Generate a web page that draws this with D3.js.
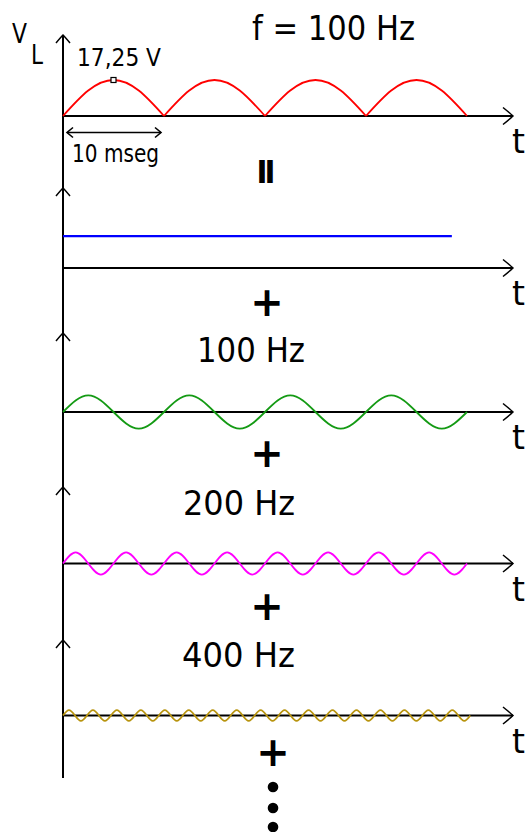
<!DOCTYPE html>
<html><head><meta charset="utf-8">
<script src="https://cdn.jsdelivr.net/npm/d3@7/dist/d3.min.js"></script>
<style>html,body{margin:0;padding:0;background:#fff;} svg{display:block;}</style>
</head><body>
<script>
// ---------- data ----------
const titleLabel = "f = 100 Hz";
const yAxisLabel = "V";
const yAxisSub = "L";
const xAxisLabel = "t";
const peakLabel = "17,25 V";
const periodLabel = "10 mseg";
const harmonicLabels = ["100 Hz", "200 Hz", "400 Hz"];

const timeDomain = [0, 40];          // ms
const voltDomain = [0, 17.25];       // V
const periodMarker = [0, 10];        // ms (double arrow)

const rectifiedStep = 2.5;           // ms between samples
const rectifiedValues = [0,12.2,17.25,12.2, 0,12.2,17.25,12.2, 0,12.2,17.25,12.2, 0,12.2,17.25,12.2, 0];

const dcSpan = [0, 38.5];            // ms
const dcValue = 15.3;                // V

const h100Step = 2.5;
const h100Values = [0,8,0,-8, 0,8,0,-8, 0,8,0,-8, 0,8,0,-8, 0];

const h200Step = 1.25;
const h200Values = [0,5.3,0,-5.3, 0,5.3,0,-5.3, 0,5.3,0,-5.3, 0,5.3,0,-5.3,
                    0,5.3,0,-5.3, 0,5.3,0,-5.3, 0,5.3,0,-5.3, 0,5.3,0,-5.3, 0];

const h400Step = 0.593;
const h400Values = [0,2.6,0,-2.6, 0,2.6,0,-2.6, 0,2.6,0,-2.6, 0,2.6,0,-2.6,
                    0,2.6,0,-2.6, 0,2.6,0,-2.6, 0,2.6,0,-2.6, 0,2.6,0,-2.6,
                    0,2.6,0,-2.6, 0,2.6,0,-2.6, 0,2.6,0,-2.6, 0,2.6,0,-2.6,
                    0,2.6,0,-2.6, 0,2.6,0,-2.6, 0,2.6,0,-2.6, 0,2.6,0,-2.6,
                    0,2.6,0,-2.6, 0];

// ---------- layout ----------
const W = 525, H = 832;
const FONT = "'DejaVu Sans', Verdana, sans-serif";
const xLeft = 63, xDataRight = 467, xAxisRight = 513;
const panelBase = [116, 268, 412, 563.5, 715.5];
const panelTop  = [35, 188, 333, 487, 640];
const axisBottom = 778;
const voltPx = 36;

const svg = d3.select("body").append("svg").attr("width", W).attr("height", H);

const x = d3.scaleLinear().domain(timeDomain).range([xLeft, xDataRight]);
const yFor = i => d3.scaleLinear().domain(voltDomain).range([panelBase[i], panelBase[i] - voltPx]);

// vertical axis
svg.append("line").attr("x1", xLeft).attr("x2", xLeft).attr("y1", panelTop[0]).attr("y2", axisBottom)
  .attr("stroke", "#000").attr("stroke-width", 2);
panelTop.forEach(t => {
  svg.append("path")
    .attr("d", `M${xLeft-7},${t+8} Q${xLeft-2},${t+2} ${xLeft},${t} Q${xLeft+2},${t+2} ${xLeft+7},${t+8}`)
    .attr("fill", "none").attr("stroke", "#000").attr("stroke-width", 1.5);
});

// horizontal axes + t labels
panelBase.forEach(b => {
  svg.append("line").attr("x1", xLeft).attr("x2", xAxisRight).attr("y1", b).attr("y2", b)
    .attr("stroke", "#000").attr("stroke-width", 2);
  svg.append("path")
    .attr("d", `M${xAxisRight-10},${b-8.5} Q${xAxisRight-2},${b-2} ${xAxisRight},${b} Q${xAxisRight-2},${b+2} ${xAxisRight-10},${b+8.5}`)
    .attr("fill", "none").attr("stroke", "#000").attr("stroke-width", 1.5);
  svg.append("text").attr("x", xAxisRight - 1).attr("y", b + 37)
    .attr("font-family", FONT).attr("font-size", 33).text(xAxisLabel);
});

// rectified wave (red) - one path per arch
const y0 = yFor(0);
const rectPts = rectifiedValues.map((v, i) => [i * rectifiedStep, v]);
const archLine = d3.line().x(d => x(d[0])).y(d => y0(d[1])).curve(d3.curveNatural);
for (let k = 0; k + 4 < rectPts.length; k += 4) {
  svg.append("path").attr("d", archLine(rectPts.slice(k, k + 5)))
    .attr("fill", "none").attr("stroke", "#ff0000").attr("stroke-width", 1.8);
}
// peak marker
svg.append("rect").attr("x", x(2 * rectifiedStep) - 2.5).attr("y", y0(d3.max(rectifiedValues)) - 2.5)
  .attr("width", 5).attr("height", 5).attr("fill", "#fff").attr("stroke", "#000").attr("stroke-width", 1.2);

// DC (blue)
const y1 = yFor(1);
svg.append("line").attr("x1", x(dcSpan[0])).attr("x2", x(dcSpan[1]))
  .attr("y1", y1(dcValue)).attr("y2", y1(dcValue))
  .attr("stroke", "#0000ff").attr("stroke-width", 2.2);

// harmonics
function wave(i, step, values, color) {
  const y = yFor(i);
  const line = d3.line().x((d, j) => x(j * step)).y(d => y(d)).curve(d3.curveNatural);
  svg.append("path").attr("d", line(values)).attr("fill", "none")
    .attr("stroke", color).attr("stroke-width", 1.8);
}
wave(2, h100Step, h100Values, "#149a14");
wave(3, h200Step, h200Values, "#ff00ff");
wave(4, h400Step, h400Values, "#b8940f");

// texts
function txt(xp, yp, s, size, len) {
  const t = svg.append("text").attr("x", xp).attr("y", yp).attr("font-family", FONT)
    .attr("font-size", size).attr("fill", "#000").text(s);
  if (len) t.attr("textLength", len).attr("lengthAdjust", "spacingAndGlyphs");
  return t;
}
txt(252, 40, titleLabel, 33, 163);
txt(12, 43, yAxisLabel, 26, 15);
txt(31, 64, yAxisSub, 26, 12);
txt(77, 66, peakLabel, 24, 84);
txt(72, 162, periodLabel, 24, 87);
txt(197, 362, harmonicLabels[0], 33, 108);
txt(183, 515, harmonicLabels[1], 33, 112);
txt(182, 667, harmonicLabels[2], 33, 113);

// 10 ms double arrow
const ay = 132.5, ax1 = x(periodMarker[0]) + 4, ax2 = x(periodMarker[1]) - 3;
svg.append("line").attr("x1", ax1).attr("x2", ax2).attr("y1", ay).attr("y2", ay)
  .attr("stroke", "#000").attr("stroke-width", 1.6);
svg.append("path").attr("d", `M${ax1+6},${ay-5} L${ax1},${ay} L${ax1+6},${ay+5}`)
  .attr("fill", "none").attr("stroke", "#000").attr("stroke-width", 1.6);
svg.append("path").attr("d", `M${ax2-6},${ay-5} L${ax2},${ay} L${ax2-6},${ay+5}`)
  .attr("fill", "none").attr("stroke", "#000").attr("stroke-width", 1.6);

// equals (rotated) and plus signs
const eqSize = 34;
svg.append("text").attr("transform", "translate(267.5,171.5) rotate(90)")
  .attr("y", eqSize * 0.36).attr("text-anchor", "middle")
  .attr("font-family", FONT).attr("font-weight", "bold").attr("font-size", eqSize)
  .attr("stroke", "#000").attr("stroke-width", 1.6).text("=");
const plusSize = 40;
[[267, 302], [267, 453], [267, 605.5], [273, 752]].forEach(([cx, cy]) => {
  svg.append("text").attr("x", cx).attr("y", cy + plusSize * 0.36).attr("text-anchor", "middle")
    .attr("font-family", FONT).attr("font-weight", "bold").attr("font-size", plusSize).text("+");
});
// continuation dots
[787, 808, 827].forEach(cy => {
  svg.append("circle").attr("cx", 273).attr("cy", cy).attr("r", 5.3).attr("fill", "#000");
});
</script>
</body></html>
